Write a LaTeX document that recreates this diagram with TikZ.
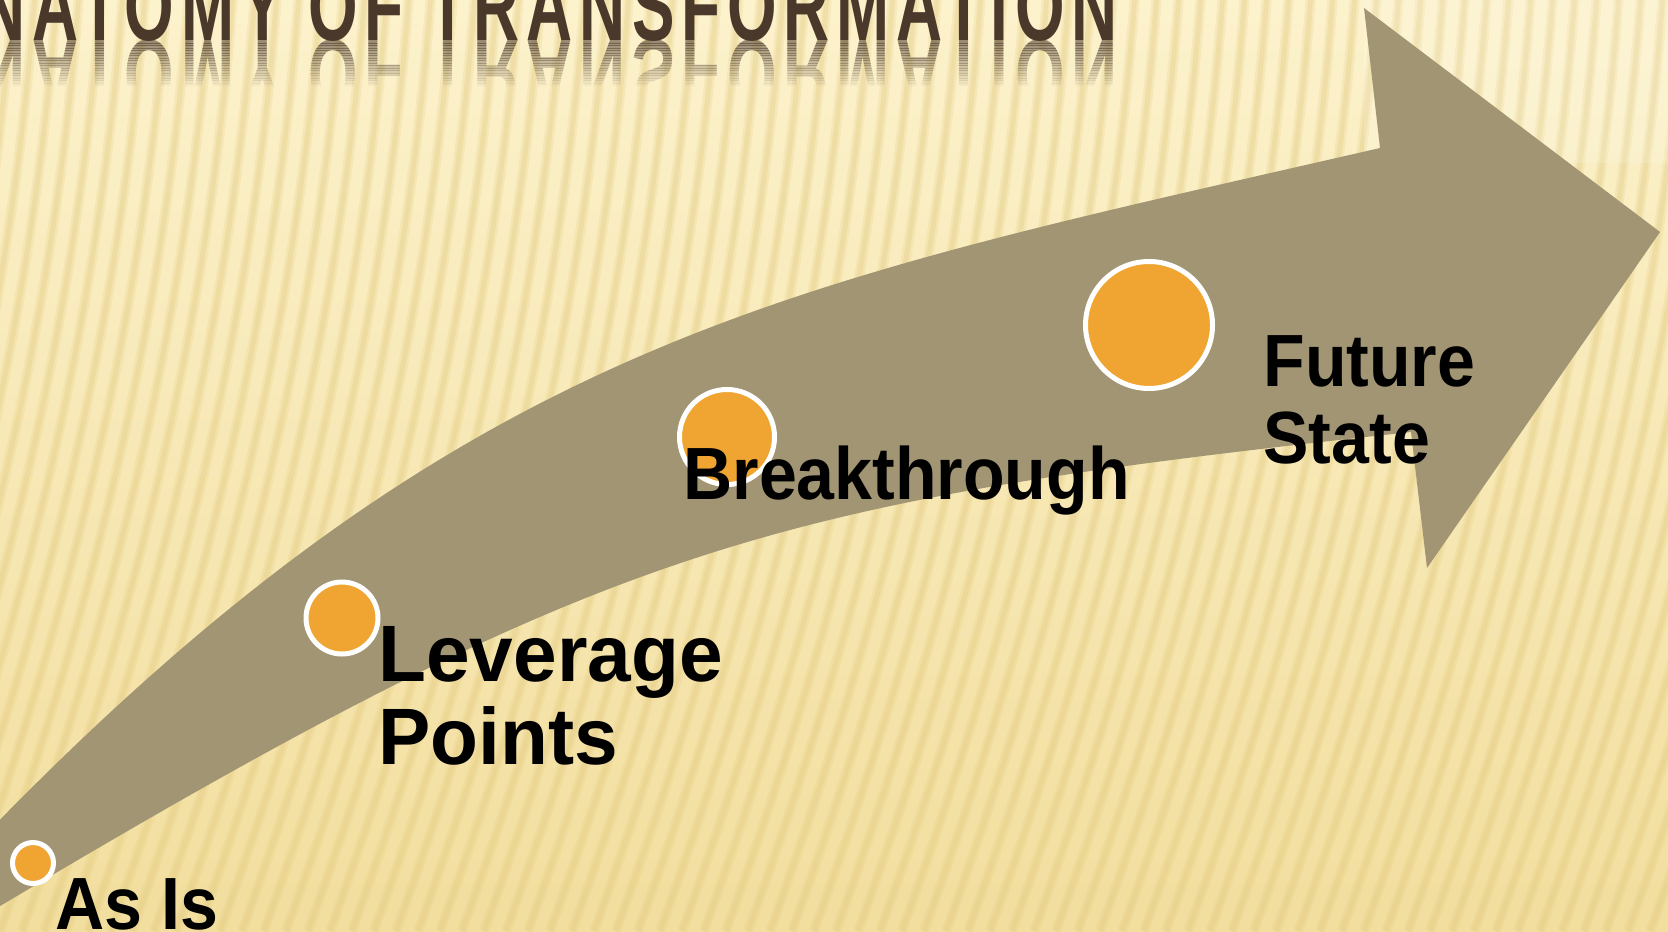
\documentclass[tikz,border=0pt]{standalone}
\usepackage{fontspec}
\newfontfamily\labelfont{Liberation Sans}[FakeStretch=0.92]
\newfontfamily\widelabelfont{Liberation Sans}[FakeStretch=0.98]
\newfontfamily\titlefont{Liberation Sans}[FakeStretch=0.65,LetterSpace=7]

\definecolor{paper}{HTML}{FCF2CC}
\definecolor{paperdark}{HTML}{F2DE9E}
\definecolor{stripe}{HTML}{E3CB80}
\definecolor{band}{HTML}{A29574}
\definecolor{dotfill}{HTML}{F0A431}
\definecolor{titlebrown}{HTML}{4A382B}

\begin{document}
\begin{tikzpicture}[x=0.5pt, y=-0.5pt,
                stepdot/.style={circle, draw=white, line width=2.5pt, fill=dotfill, inner sep=0pt},
                steptext/.style={anchor=base west, inner sep=0pt, font=\labelfont\bfseries\fontsize{37}{38}\selectfont},
                bigtext/.style={steptext, font=\widelabelfont\bfseries\fontsize{40}{41}\selectfont},
                titletext/.style={anchor=base east, inner sep=0pt, text=titlebrown, font=\titlefont\bfseries\fontsize{49}{50}\selectfont},
            ]

            \useasboundingbox (0,0) rectangle (1668,931);
            \clip (0,0) rectangle (1668,931);

            % paper
            \shade[top color=paper, bottom color=paperdark] (0,0) rectangle (1668,931);
            \foreach \k in {-12,...,78}{
                \draw[stripe, line width=5pt, opacity=0.22] (\k*22,931) .. controls (\k*22+120,600) and (\k*22+190,300) .. (\k*22+212,-20);
                \draw[stripe, line width=2.5pt, opacity=0.3] (\k*22,931) .. controls (\k*22+120,600) and (\k*22+190,300) .. (\k*22+212,-20);
            }
            \fill[white, opacity=0.15] (1364,0) rectangle (1668,163);

            % title and its reflection
            \node[titletext] (title) at (1118,41) {ANATOMY OF TRANSFORMATION};
            \foreach \k in {0,...,17}{
                \pgfmathsetmacro\fade{0.55-\k*0.03}
                \begin{scope}
                    \clip (0,41+\k*2.5) rectangle (1668,43.5+\k*2.5);
                    \begin{scope}[shift={(0,41)}, yscale=-1]
                        \node[titletext, transform shape, opacity=\fade] (mirror\k) at (1118,0) {ANATOMY OF TRANSFORMATION};
                    \end{scope}
                \end{scope}
            }

            % arrow
            \fill[band] (-40,861) .. controls (460,336) and (780,286) .. (1380,148)
                -- (1364,8) -- (1660,232) -- (1427,568) -- (1411,432)
                .. controls (761,503) and (610,540) .. (-40,930)
                -- cycle;

            % stages
            \node[stepdot, minimum size=20.5pt] (asis) at (33,863) {};
            \node[stepdot, minimum size=36pt] (leverage) at (342,618) {};
            \node[stepdot, minimum size=47.5pt] (breakthrough) at (727,437) {};
            \node[stepdot, minimum size=63.5pt] (future) at (1149,325) {};

            \node[steptext] (asislabel) at (55,929) {As Is};
            \node[bigtext] (leveragelabel) at (378,681) {Leverage};
            \node[bigtext] (pointslabel) at (378,764) {Points};
            \node[steptext] (breaklabel) at (683,499) {Breakthrough};
            \node[steptext] (futurelabel) at (1263,386) {Future};
            \node[steptext] (statelabel) at (1263,463) {State};
        \end{tikzpicture}
\end{document}
